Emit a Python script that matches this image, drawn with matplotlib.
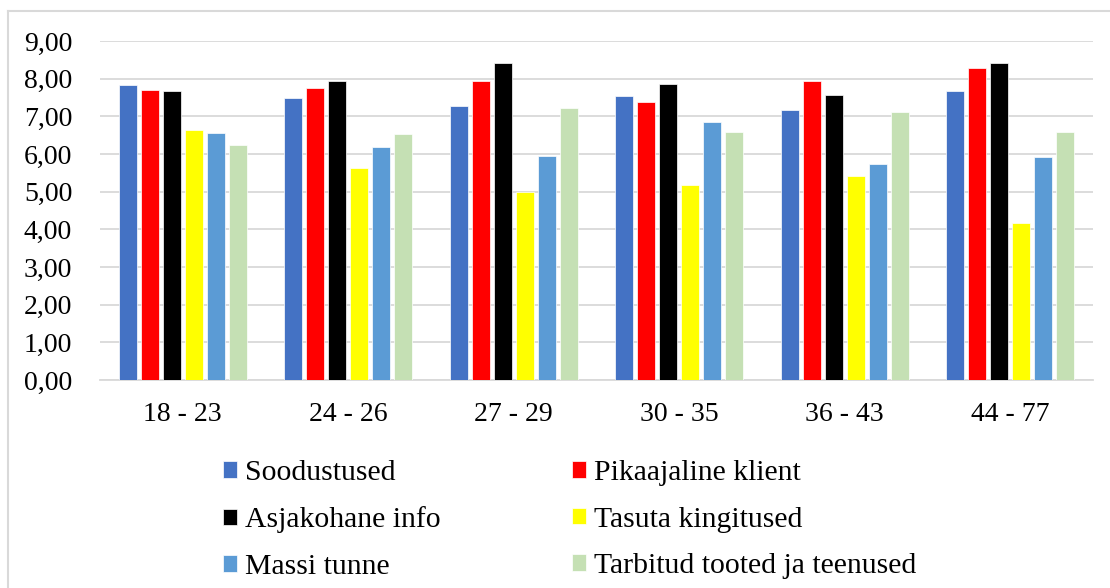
import matplotlib.pyplot as plt
import numpy as np
from matplotlib.lines import Line2D

plt.rcParams['font.family'] = ['Liberation Serif', 'DejaVu Serif']

# age groups and average scores per motivator
groups = ['18 - 23', '24 - 26', '27 - 29', '30 - 35', '36 - 43', '44 - 77']
series = ['Soodustused', 'Pikaajaline klient', 'Asjakohane info',
          'Tasuta kingitused', 'Massi tunne', 'Tarbitud tooted ja teenused']
soodustused = [7.84, 7.49, 7.27, 7.53, 7.18, 7.68]
pikaajaline = [7.71, 7.75, 7.94, 7.38, 7.94, 8.28]
asjakohane = [7.68, 7.94, 8.41, 7.87, 7.56, 8.41]
tasuta = [6.63, 5.62, 4.99, 5.18, 5.42, 4.18]
massi = [6.56, 6.18, 5.96, 6.84, 5.74, 5.93]
tarbitud = [6.24, 6.52, 7.22, 6.59, 7.12, 6.59]
colors = ['#4472c4', '#ff0000', '#000000', '#ffff00', '#5b9bd5', '#c5e0b4']

values = [soodustused, pikaajaline, asjakohane, tasuta, massi, tarbitud]

fig = plt.figure(figsize=(11.1, 5.88), dpi=100)
ax = fig.add_axes([0.0901, 0.3537, 0.8946, 0.5766])

x = np.arange(len(groups))
pitch = 0.8 / len(series)
bars = []
for i, (name, vals, c) in enumerate(zip(series, values, colors)):
    b = ax.bar(x - 0.4 + pitch * (i + 0.5), vals, width=pitch * 0.82,
               color=c, edgecolor='white', linewidth=0.5, label=name, zorder=3)
    bars.append(b)

ax.set_xlim(-0.5, len(groups) - 0.5)
ax.set_ylim(0, 9)
ax.set_yticks(range(0, 10))
ax.set_yticklabels([f'{v},00' for v in range(0, 10)])
ax.set_xticks(x)
ax.set_xticklabels(groups)
ax.tick_params(axis='both', length=0, labelsize=20, colors='#000000')
ax.tick_params(axis='x', pad=16)
ax.tick_params(axis='y', pad=20)
ax.grid(axis='y', color='#d9d9d9', linewidth=1.3, zorder=0)
for s in ['top', 'right', 'left']:
    ax.spines[s].set_visible(False)
ax.spines['bottom'].set_color('#d9d9d9')
ax.spines['bottom'].set_linewidth(1.3)

# legend as two columns of three entries
leg_kw = dict(loc='upper left', ncol=1, frameon=False, fontsize=21.4,
              handlelength=0.47, handleheight=0.47, handletextpad=0.27,
              labelspacing=0.69, borderaxespad=0, borderpad=0)
left_col = [0, 2, 4]
right_col = [1, 3, 5]
fig.legend([bars[i] for i in left_col], [series[i] for i in left_col],
           bbox_to_anchor=(223 / 1110, 1 - 460 / 588), **leg_kw)
fig.legend([bars[i] for i in right_col], [series[i] for i in right_col],
           bbox_to_anchor=(572 / 1110, 1 - 460 / 588), **leg_kw)

# light frame lines on the left and top of the chart
fig.add_artist(Line2D([8 / 1110, 8 / 1110], [0, 1 - 11 / 588],
                      transform=fig.transFigure, color='#d9d9d9', linewidth=1.5))
fig.add_artist(Line2D([8 / 1110, 1], [1 - 11 / 588, 1 - 11 / 588],
                      transform=fig.transFigure, color='#d9d9d9', linewidth=1.5))

fig.savefig('out.png', dpi=100)
